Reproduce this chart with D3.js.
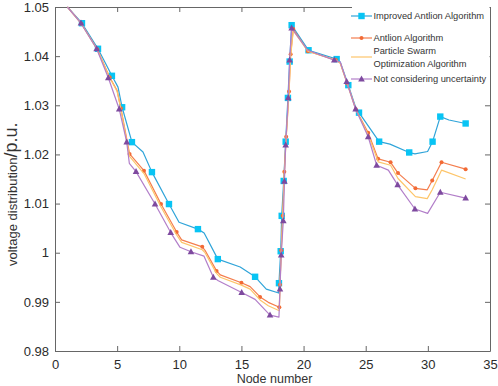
<!DOCTYPE html>
<html>
<head>
<meta charset="utf-8">
<script src="https://cdn.jsdelivr.net/npm/d3@7"></script>
<style>
  body { margin: 0; background: #fff; }
  svg { display: block; font-family: "Liberation Sans", Arial, sans-serif; }
</style>
</head>
<body>
<div id="chart"></div>
<script>
// node positions and voltages
var nodeImproved = [1, 2.17, 3.46, 4.58, 5.07, 5.40, 6.19, 7.08, 7.80, 9.17, 9.98, 11.50, 12.00, 13.10, 14.90, 16.10, 17.00, 18.00, 18.02, 18.16, 18.24, 18.40, 18.56, 18.74, 18.88, 19.04, 20.40, 22.66, 22.95, 23.60, 24.20, 24.46, 26.08, 26.95, 28.50, 28.96, 29.98, 30.38, 31.00, 31.70, 33.04];
var voltImproved = [1.05, 1.0467, 1.0415, 1.0360, 1.0337, 1.0296, 1.0225, 1.0205, 1.0164, 1.0099, 1.0062, 1.0048, 1.0040, 0.9987, 0.9971, 0.9951, 0.9926, 0.9918, 0.9938, 1.0003, 1.0075, 1.0146, 1.0226, 1.0315, 1.0389, 1.0463, 1.0412, 1.0394, 1.0388, 1.0341, 1.0295, 1.0285, 1.0226, 1.0221, 1.0204, 1.0201, 1.0206, 1.0226, 1.0277, 1.0270, 1.0263];
var markImproved = [1, 2, 3, 5, 6, 8, 9, 11, 13, 15, 18, 19, 20, 21, 22, 23, 24, 25, 26, 27, 29, 31, 32, 34, 37, 38, 40];

var nodeAntlion = [1, 2.12, 3.40, 4.40, 5.00, 5.30, 6.00, 7.16, 8.53, 9.79, 10.19, 11.85, 12.07, 13.00, 13.30, 15.00, 15.70, 16.50, 17.16, 18.05, 18.10, 18.20, 18.32, 18.45, 18.60, 18.83, 18.96, 19.17, 20.35, 22.60, 22.95, 23.50, 24.20, 25.20, 26.00, 27.00, 27.60, 29.00, 29.95, 30.35, 31.10, 33.04];
var voltAntlion = [1.05, 1.0466, 1.0414, 1.0357, 1.0330, 1.0294, 1.0201, 1.0167, 1.0099, 1.0042, 1.0026, 1.0012, 1.0005, 0.9963, 0.9955, 0.9939, 0.9931, 0.9910, 0.9899, 0.9889, 0.9935, 1.0005, 1.0075, 1.0165, 1.0236, 1.0328, 1.0404, 1.0455, 1.0410, 1.0392, 1.0386, 1.0345, 1.0292, 1.0244, 1.0191, 1.0184, 1.0162, 1.0131, 1.0128, 1.0147, 1.0184, 1.0170];
var markAntlion = [1, 2, 3, 5, 6, 7, 8, 9, 11, 13, 15, 17, 19, 20, 21, 22, 23, 24, 25, 26, 27, 28, 29, 31, 32, 33, 34, 35, 36, 37, 39, 40, 41];

var nodePSO = nodeAntlion;
var voltPSO = [1.05, 1.0466, 1.0413, 1.0356, 1.0328, 1.0292, 1.0196, 1.0161, 1.0093, 1.0036, 1.0021, 1.0006, 1.0000, 0.9958, 0.9950, 0.9934, 0.9926, 0.9904, 0.9892, 0.9882, 0.9930, 1.0000, 1.0070, 1.0160, 1.0232, 1.0325, 1.0400, 1.0452, 1.0410, 1.0392, 1.0386, 1.0345, 1.0292, 1.0240, 1.0185, 1.0178, 1.0151, 1.0114, 1.0110, 1.0128, 1.0168, 1.0150];

var nodeNoUnc = [1, 2.09, 3.35, 4.29, 5.17, 5.77, 5.98, 6.52, 8.05, 9.31, 10.06, 10.94, 11.99, 12.74, 13.14, 15.02, 16.10, 17.30, 18.02, 18.10, 18.20, 18.37, 18.46, 18.56, 18.77, 18.88, 19.04, 20.33, 22.47, 22.95, 23.47, 24.19, 25.20, 25.88, 26.82, 27.57, 28.96, 29.98, 31.00, 33.04];
var voltNoUnc = [1.05, 1.0467, 1.0415, 1.0356, 1.0292, 1.0225, 1.0182, 1.0165, 1.0099, 1.0041, 1.0011, 1.0002, 0.9993, 0.9950, 0.9943, 0.9919, 0.9905, 0.9873, 0.9869, 0.9926, 0.9995, 1.0065, 1.0145, 1.0219, 1.0315, 1.0392, 1.0457, 1.0412, 1.0392, 1.0388, 1.0348, 1.0292, 1.0236, 1.0178, 1.0168, 1.0138, 1.0089, 1.0080, 1.0123, 1.0111];
var markNoUnc = [1, 2, 3, 4, 5, 7, 8, 9, 11, 13, 15, 17, 19, 20, 21, 22, 23, 24, 25, 26, 28, 30, 31, 32, 33, 35, 36, 38, 39];

var xTicks = [0, 5, 10, 15, 20, 25, 30, 35];
var yTicks = [0.98, 0.99, 1, 1.01, 1.02, 1.03, 1.04, 1.05];

var width = 498,
    height = 386,
    margin = {top: 7, right: 8, bottom: 35, left: 55},
    chartWidth = width - margin.left - margin.right,
    chartHeight = height - margin.top - margin.bottom;

var series = [
  {name: ["Improved Antlion Algorithm"], x: nodeImproved, y: voltImproved, marks: markImproved,
   line: "#2fa4d9", fill: "#08c4f4", shape: "square", legendY: 9},
  {name: ["Antlion Algorithm"], x: nodeAntlion, y: voltAntlion, marks: markAntlion,
   line: "#f47d4d", fill: "#f26a35", shape: "dot", legendY: 31},
  {name: ["Particle Swarm", "Optimization Algorithm"], x: nodePSO, y: voltPSO, marks: [],
   line: "#fdc56a", fill: "#fdc56a", shape: null, legendY: 50},
  {name: ["Not considering uncertainty"], x: nodeNoUnc, y: voltNoUnc, marks: markNoUnc,
   line: "#b27ec9", fill: "#7e4a9f", shape: "triangle", legendY: 72}
];

var svg = d3.select("#chart").append("svg")
  .attr("width", width)
  .attr("height", height);

var chart = svg.append("g")
  .attr("transform", "translate(" + margin.left + "," + margin.top + ")");

var x = d3.scaleLinear().domain([0, 35]).range([0, chartWidth]);
var y = d3.scaleLinear().domain([0.98, 1.05]).range([chartHeight, 0]);

var frameColor = "#666";

function styleAxis(g){
  g.select(".domain").attr("stroke", frameColor);
  g.selectAll(".tick line").attr("stroke", frameColor);
  g.selectAll(".tick text").attr("fill", "#2b2b2b").attr("font-size", 13);
}

chart.append("g")
  .attr("transform", "translate(0," + chartHeight + ")")
  .call(d3.axisBottom(x).tickValues(xTicks).tickSizeInner(-5).tickSizeOuter(0).tickPadding(9).tickFormat(d3.format("d")))
  .call(styleAxis);

chart.append("g")
  .call(d3.axisLeft(y).tickValues(yTicks).tickSizeInner(-5).tickSizeOuter(0).tickPadding(6)
    .tickFormat(function(d){ return d === 1 ? "1" : d3.format(".2f")(d); }))
  .call(styleAxis);

chart.append("g")
  .call(d3.axisTop(x).tickValues(xTicks).tickSizeInner(-5).tickSizeOuter(0).tickFormat(""))
  .call(styleAxis);

chart.append("g")
  .attr("transform", "translate(" + chartWidth + ",0)")
  .call(d3.axisRight(y).tickValues(yTicks).tickSizeInner(-5).tickSizeOuter(0).tickFormat(""))
  .call(styleAxis);

var line = d3.line()
  .x(function(d){ return x(d[0]); })
  .y(function(d){ return y(d[1]); });

function drawMarker(g, shape, color, cx, cy){
  if (shape === "square"){
    g.append("rect").attr("x", cx - 3.2).attr("y", cy - 3.2)
      .attr("width", 6.4).attr("height", 6.4).attr("fill", color);
  } else if (shape === "dot"){
    g.append("circle").attr("cx", cx).attr("cy", cy).attr("r", 2).attr("fill", color);
  } else if (shape === "triangle"){
    g.append("path")
      .attr("d", "M" + cx + "," + (cy - 3.6) + "L" + (cx + 3.3) + "," + (cy + 2.4) + "L" + (cx - 3.3) + "," + (cy + 2.4) + "Z")
      .attr("fill", color);
  }
}

series.forEach(function(s){
  var pts = s.x.map(function(v, i){ return [v, s.y[i]]; });
  var g = chart.append("g").attr("class", "series");
  g.append("path")
    .attr("d", line(pts))
    .attr("fill", "none")
    .attr("stroke", s.line)
    .attr("stroke-width", 1.2)
    .attr("stroke-linejoin", "round");
  s.marks.forEach(function(i){
    drawMarker(g, s.shape, s.fill, x(pts[i][0]), y(pts[i][1]));
  });
});

// legend
var legend = svg.append("g").attr("class", "legend");
legend.append("rect")
  .attr("x", 352).attr("y", 0)
  .attr("width", 137.5).attr("height", 88)
  .attr("fill", "#fff");

series.forEach(function(s){
  var ly = s.legendY + 7;
  legend.append("line")
    .attr("x1", 351).attr("x2", 372)
    .attr("y1", ly).attr("y2", ly)
    .attr("stroke", s.line).attr("stroke-width", 1.2);
  drawMarker(legend, s.shape, s.fill, 361.5, ly);
});

legend.selectAll("text.lab")
  .data([
    {t: "Improved Antlion Algorithm", y: 16},
    {t: "Antlion Algorithm", y: 38},
    {t: "Particle Swarm", y: 51},
    {t: "Optimization Algorithm", y: 64},
    {t: "Not considering uncertainty", y: 79}
  ])
  .enter().append("text")
  .attr("class", "lab")
  .attr("x", 373.5)
  .attr("y", function(d){ return d.y; })
  .attr("dy", "0.35em")
  .attr("font-size", 9.3)
  .attr("fill", "#333")
  .text(function(d){ return d.t; });

// axis titles
svg.append("text")
  .attr("x", margin.left + chartWidth / 2 + 2)
  .attr("y", 383)
  .attr("text-anchor", "middle")
  .attr("font-size", 12.5)
  .attr("fill", "#333")
  .text("Node number");

var yl = svg.append("text")
  .attr("transform", "translate(17,266) rotate(-90)")
  .attr("fill", "#333");
yl.append("tspan").attr("font-size", 13).text("voltage distribution");
yl.append("tspan").attr("font-size", 18).text("/p.u.");
</script>
</body>
</html>
